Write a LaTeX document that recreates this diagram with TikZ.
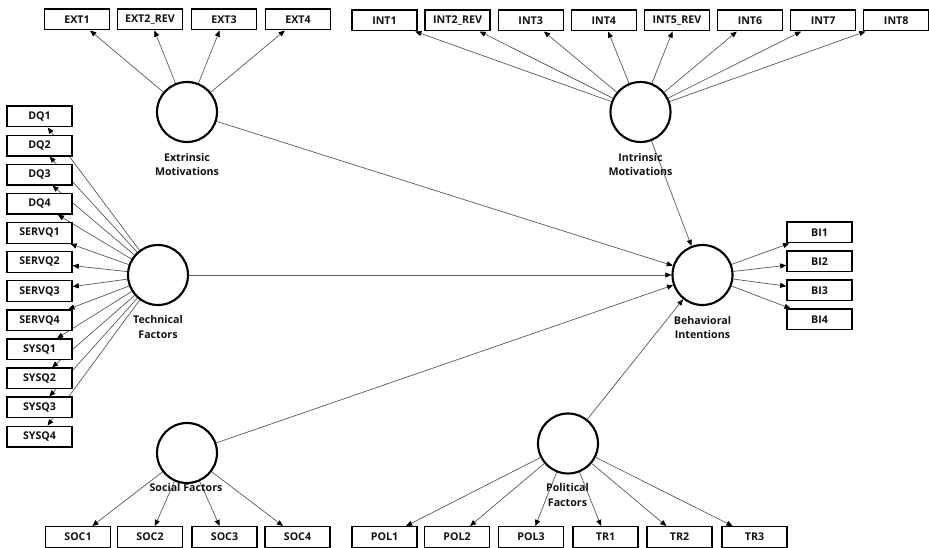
\documentclass[tikz,border=0pt]{standalone}
\usepackage{fontspec}
\setmainfont{Open Sans}
\usepackage{xcolor}
\definecolor{ink}{RGB}{18,18,18}
\definecolor{wire}{RGB}{95,95,95}
\usepackage{tikz}
\usetikzlibrary{arrows.meta,backgrounds}
\tikzset{
  %% indicator boxes
  ind/.style={draw=black, line width=1pt, fill=white,
    minimum width=48.75pt, minimum height=15.5pt, inner sep=0pt,
    font=\fontsize{8}{9.5}\selectfont\bfseries, text=ink},
  %% latent variables
  lat/.style={circle, draw=black, line width=1.6pt, fill=white,
    minimum size=45pt, inner sep=0pt},
  lbl/.style={align=center, inner sep=0pt, text=ink,
    font=\fontsize{8}{11}\selectfont\bfseries},
  %% paths and loadings
  load/.style={draw=wire, line width=0.55pt,
    -{Triangle[length=4.6pt,width=3.8pt,color=black]}},
}

\begin{document}
\begin{tikzpicture}[x=0.75pt,y=-0.75pt]
\useasboundingbox (0,0) rectangle (929,548);

%% latent variables
\node[lat] (ext) at (187,112) {};
\node[lat] (int) at (640.5,112) {};
\node[lat] (tech) at (158,275) {};
\node[lat] (bi) at (702.5,275) {};
\node[lat] (soc) at (187,453) {};
\node[lat] (pol) at (568,443.5) {};

\node[lbl] (extl) at (187,164.5) {Extrinsic\\Motivations};
\node[lbl] (intl) at (640.5,164.5) {Intrinsic\\Motivations};
\node[lbl] (techl) at (158,327) {Technical\\Factors};
\node[lbl] (bil) at (702.5,327.5) {Behavioral\\Intentions};
\node[lbl] (socl) at (186,488) {Social Factors};
\node[lbl] (poll) at (567.5,495) {Political\\Factors};

%% indicators
\foreach \t/\x [count=\i] in {EXT1/77,EXT2\_REV/150,EXT3/224,EXT4/298}
  \node[ind] (ext\i) at (\x,19.5) {\t};
\foreach \t [count=\i] in {INT1,INT2\_REV,INT3,INT4,INT5\_REV,INT6,INT7,INT8}
  \node[ind] (int\i) at ({384.5+73.1*(\i-1)},20.5) {\t};
\foreach \t [count=\i] in {DQ1,DQ2,DQ3,DQ4,SERVQ1,SERVQ2,SERVQ3,SERVQ4,SYSQ1,SYSQ2,SYSQ3,SYSQ4}
  \node[ind] (tech\i) at (39.5,{116.5+29.1*(\i-1)}) {\t};
\foreach \t [count=\i] in {BI1,BI2,BI3,BI4}
  \node[ind] (bi\i) at (819.5,{232.5+29*(\i-1)}) {\t};
\foreach \t/\x [count=\i] in {SOC1/78,SOC2/150,SOC3/224.5,SOC4/297.5}
  \node[ind] (soc\i) at (\x,537) {\t};
\foreach \t/\x [count=\i] in {POL1/384.5,POL2/457,POL3/531,TR1/605.5,TR2/679.5,TR3/754.5}
  \node[ind] (pol\i) at (\x,537) {\t};

\begin{scope}[on background layer]
\foreach \i in {1,...,4} \draw[load] (ext) -- (ext\i);
\foreach \i in {1,...,8} \draw[load] (int) -- (int\i);
\foreach \i in {1,...,12} \draw[load] (tech) -- (tech\i);
\foreach \i in {1,...,4} \draw[load] (bi) -- (bi\i);
\foreach \i in {1,...,4} \draw[load] (soc) -- (soc\i);
\foreach \i in {1,...,6} \draw[load] (pol) -- (pol\i);
\foreach \s in {ext,int,tech,soc,pol} \draw[load] (\s) -- (bi);
\end{scope}
\end{tikzpicture}
\end{document}
